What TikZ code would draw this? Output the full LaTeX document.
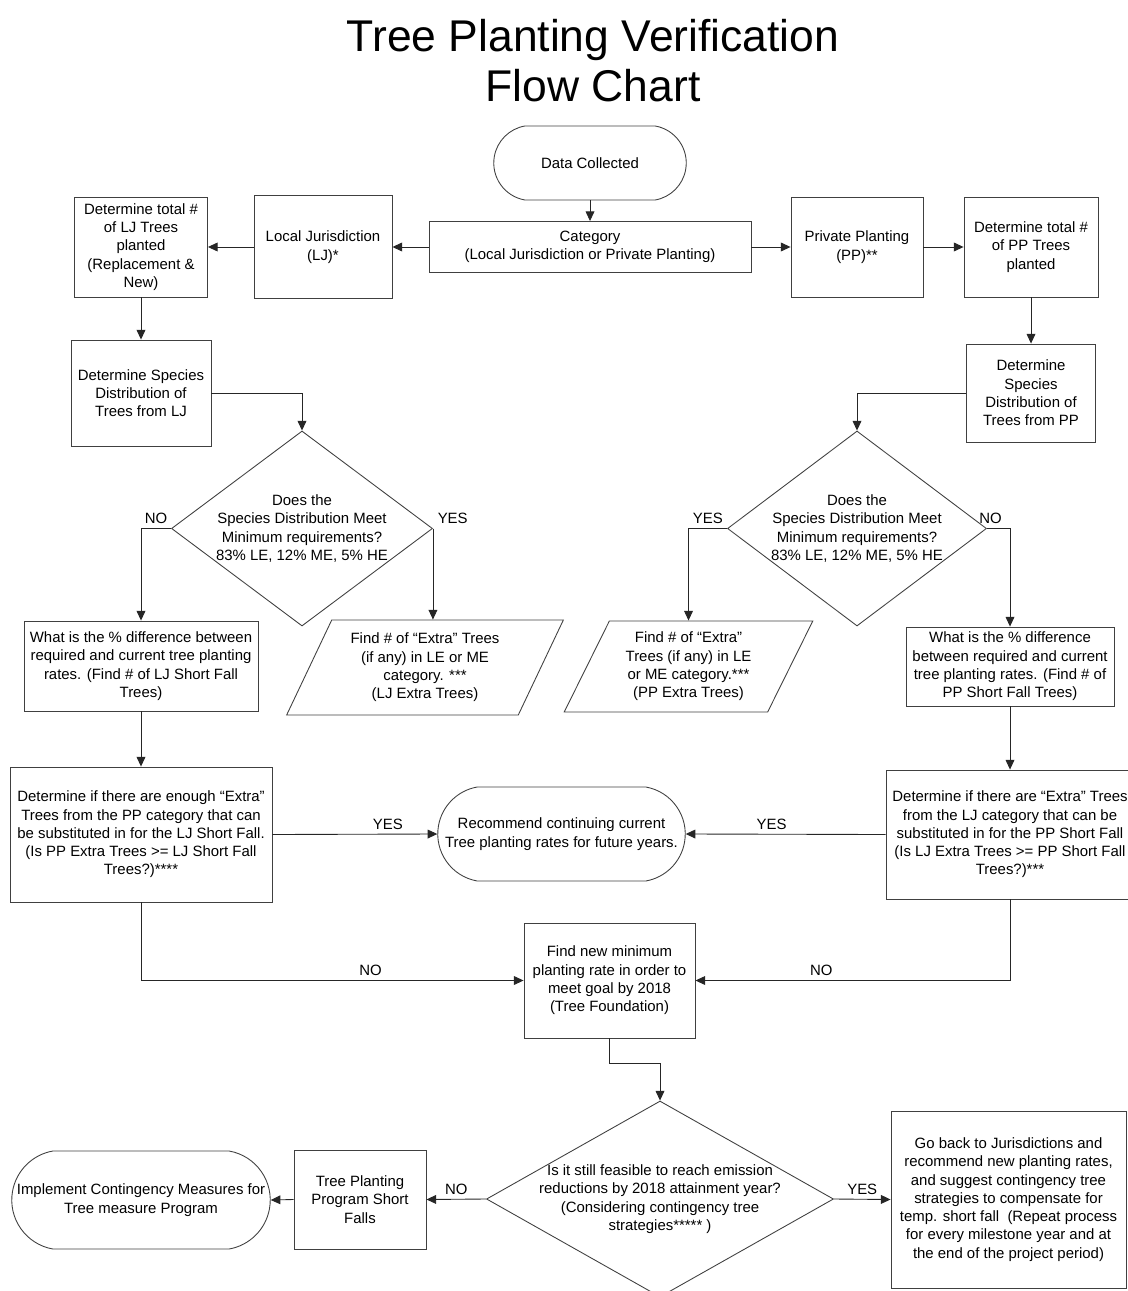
\documentclass[tikz,border=0pt]{standalone}
\usepackage{fontspec}
\setmainfont{Liberation Sans}
\usetikzlibrary{shapes.geometric, shapes.misc, arrows.meta}

\begin{document}
\begin{tikzpicture}[x=0.2mm, y=-0.2mm,
  txt/.style={font=\fontsize{8.5}{10.4}\selectfont, align=center},
  box/.style={txt, draw=black!75, line width=0.5pt, inner sep=1pt},
  proc/.style={box, rectangle},
  term/.style={box, rounded rectangle, rounded rectangle arc length=160},
  decision/.style={box, diamond, inner sep=0pt, inner xsep=-8pt},
  io/.style={box, trapezium, trapezium left angle=63, trapezium right angle=117, trapezium stretches=true},
  arr/.style={draw=black!85, line width=0.5pt, -{Triangle[length=5.5pt, width=5pt]}},
  lbl/.style={txt, inner sep=2.5pt}]
\useasboundingbox (0,0) rectangle (1127,1291);

\node[font=\fontsize{25.3}{28.5}\selectfont, align=center, inner sep=0pt] (title) at (593,61) {Tree Planting Verification\\Flow Chart};

\node[term, minimum width=39.2mm, minimum height=14.8mm] (dc) at (590,163) {Data Collected};
\node[proc, minimum width=64.4mm, minimum height=10.2mm] (cat) at (590,247) {Category\\(Local Jurisdiction or Private Planting)};
\node[proc, minimum width=27.6mm, minimum height=20.6mm] (lj) at (323,247) {Local Jurisdiction\\(LJ)*};
\node[proc, minimum width=26.6mm, minimum height=20mm] (ljtot) at (141,247) {Determine total \#\\of LJ Trees\\planted\\(Replacement \&\\New)};
\node[proc, minimum width=26.4mm, minimum height=20mm] (pp) at (857,247) {Private Planting\\(PP)**};
\node[proc, minimum width=26.8mm, minimum height=20mm] (pptot) at (1031,247) {Determine total \#\\of PP Trees\\planted};
\node[proc, minimum width=28mm, minimum height=21.2mm] (ljspec) at (141,393) {Determine Species\\Distribution of\\Trees from LJ};
\node[proc, minimum width=25.8mm, minimum height=19.6mm] (ppspec) at (1031,393) {Determine\\Species\\Distribution of\\Trees from PP};

\node[decision, shape aspect=1.33, minimum width=52.2mm, minimum height=39mm] (ljq) at (302,528.5) {Does the\\Species Distribution Meet\\Minimum requirements?\\83\% LE, 12\% ME, 5\% HE};
\node[decision, shape aspect=1.33, minimum width=51.8mm, minimum height=39mm] (ppq) at (857,528.5) {Does the\\Species Distribution Meet\\Minimum requirements?\\83\% LE, 12\% ME, 5\% HE};

\node[proc, minimum width=46.8mm, minimum height=18mm] (ljshort) at (141,666) {What is the \% difference between\\required and current tree planting\\rates. (Find \# of LJ Short Fall\\Trees)};
\node[io, minimum width=55.4mm, minimum height=19mm] (ljextra) at (425,667.5) {Find \# of ``Extra'' Trees\\(if any) in LE or ME\\category. ***\\(LJ Extra Trees)};
\node[io, minimum width=49.8mm, minimum height=18.2mm] (ppextra) at (688.5,666.5) {Find \# of ``Extra''\\Trees (if any) in LE\\or ME category.***\\(PP Extra Trees)};
\node[proc, minimum width=41.6mm, minimum height=15.8mm] (ppshort) at (1010,666.5) {What is the \% difference\\between required and current\\tree planting rates. (Find \# of\\PP Short Fall Trees)};

\node[proc, minimum width=52.4mm, minimum height=27mm] (ljenough) at (141,834.5) {Determine if there are enough ``Extra''\\Trees from the PP category that can\\be substituted in for the LJ Short Fall.\\(Is PP Extra Trees >= LJ Short Fall\\Trees?)****};
\node[term, minimum width=50.2mm, minimum height=18.8mm] (rec) at (561.5,834) {Recommend continuing current\\Tree planting rates for future years.};
\node[proc, minimum width=49.6mm, minimum height=25.8mm] (ppenough) at (1010,834.5) {Determine if there are ``Extra'' Trees\\from the LJ category that can be\\substituted in for the PP Short Fall\\(Is LJ Extra Trees >= PP Short Fall\\Trees?)***};
\node[proc, minimum width=34.2mm, minimum height=23mm] (tf) at (609.5,980.5) {Find new minimum\\planting rate in order to\\meet goal by 2018\\(Tree Foundation)};

\node[decision, shape aspect=1.77, minimum width=69.4mm, minimum height=39.2mm] (fq) at (660,1199) {Is it still feasible to reach emission\\reductions by 2018 attainment year?\\(Considering contingency tree\\strategies***** )};
\node[proc, minimum width=26.4mm, minimum height=19.8mm] (tpsf) at (360,1199.5) {Tree Planting\\Program Short\\Falls};
\node[term, minimum width=52.4mm, minimum height=19.6mm] (impl) at (141,1200) {Implement Contingency Measures for\\Tree measure Program};
\node[proc, minimum width=47mm, minimum height=35.4mm] (goback) at (1008.5,1199.5) {Go back to Jurisdictions and\\recommend new planting rates,\\and suggest contingency tree\\strategies to compensate for\\temp. short fall~ (Repeat process\\for every milestone year and at\\the end of the project period)};

\draw[arr] (dc.south) -- (cat.north);
\draw[arr] (cat.west) -- (lj.east);
\draw[arr] (lj.west) -- (ljtot.east);
\draw[arr] (cat.east) -- (pp.west);
\draw[arr] (pp.east) -- (pptot.west);
\draw[arr] (ljtot.south) -- (ljspec.north);
\draw[arr] (pptot.south) -- (ppspec.north);
\draw[arr] (ljspec.east) -| (ljq.north);
\draw[arr] (ppspec.west) -| (ppq.north);

\draw[arr] (ljq.west) -| node[lbl, pos=0.25, above] (ljno) {NO} (ljshort.north);
\draw[arr] (ljq.east) node[lbl, above right] (ljyes) {YES} -- (ljq.east |- ljextra.north);
\draw[arr] (ppq.west) -| node[lbl, pos=0.25, above] (ppyes) {YES} (ppextra.north);
\draw[arr] (ppq.east) -| node[lbl, pos=0.08, above] (ppno) {NO} (ppshort.north);
\draw[arr] (ljshort.south) -- (ljenough.north);
\draw[arr] (ppshort.south) -- (ppenough.north);

\draw[arr] (ljenough.east) -- node[lbl, pos=0.7, above] (ljok) {YES} (rec.west);
\draw[arr] (ppenough.west) -- node[lbl, pos=0.57, above] (ppok) {YES} (rec.east);
\draw[arr] (ljenough.south) |- node[lbl, pos=0.8, above] (ljfail) {NO} (tf.west);
\draw[arr] (ppenough.south) |- node[lbl, pos=0.8, above] (ppfail) {NO} (tf.east);
\draw[arr] (tf.south) -- ++(0,25) -| (fq.north);

\draw[arr] (fq.west) -- node[lbl, above] (fqno) {NO} (tpsf.east);
\draw[arr] (tpsf.west) -- (impl.east);
\draw[arr] (fq.east) -- node[lbl, above] (fqyes) {YES} (goback.west);
\end{tikzpicture}
\end{document}
